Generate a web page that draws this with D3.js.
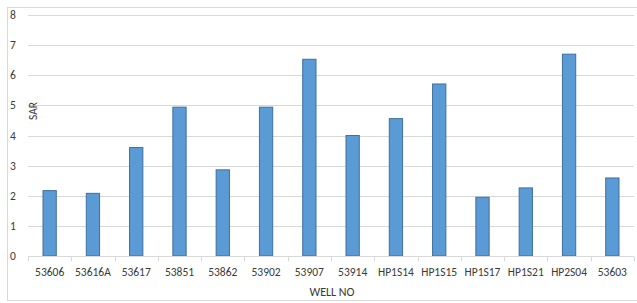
<!DOCTYPE html>
<html>
<head>
<meta charset="utf-8">
<script src="https://cdn.jsdelivr.net/npm/d3@7"></script>
<style>
  body { margin: 0; background: #fff; }
  svg { display: block; font-family: Calibri, Carlito, "Open Sans", sans-serif; }
</style>
</head>
<body>
<svg id="chart" width="637" height="303"></svg>
<script>
const wells = ["53606", "53616A", "53617", "53851", "53862", "53902", "53907", "53914",
    "HP1S14", "HP1S15", "HP1S17", "HP1S21", "HP2S04", "53603"];
const sarValues = [2.17, 2.08, 3.6, 4.94, 2.86, 4.94, 6.53, 4.0, 4.56, 5.71, 1.95, 2.26, 6.7, 2.59];
const yTicks = [0, 1, 2, 3, 4, 5, 6, 7, 8];

const svg = d3.select("#chart");
const margin = { left: 28, right: 3, top: 15, bottom: 47 };
const width = 637, height = 303;
const textColor = "#3a3a3a";

// chart border (right side runs off the picture)
svg.append("rect")
    .attr("x", 7.5).attr("y", 7.5)
    .attr("width", 640).attr("height", 293)
    .attr("fill", "none").attr("stroke", "#d9d9d9");

const x = d3.scaleBand()
    .domain(wells)
    .range([margin.left, width - margin.right])
    .paddingInner(0.67).paddingOuter(0.335);
const xBounds = d3.scaleBand().domain(wells).range([margin.left, width - margin.right]);

const y = d3.scaleLinear().domain([0, 8]).range([height - margin.bottom, margin.top]);

// gridlines
svg.append("g")
    .selectAll("line")
    .data(yTicks.filter((t) => t > 0))
    .join("line")
    .attr("x1", margin.left).attr("x2", width - margin.right)
    .attr("y1", (d) => Math.round(y(d)) + 0.5).attr("y2", (d) => Math.round(y(d)) + 0.5)
    .attr("stroke", "#d9d9d9");

// y tick labels
svg.append("g")
    .selectAll("text")
    .data(yTicks)
    .join("text")
    .attr("x", 10)
    .attr("y", (d) => y(d))
    .attr("dy", "0.35em")
    .attr("font-size", 11.5)
    .attr("fill", textColor)
    .text((d) => d);

// bars
svg.append("g")
    .selectAll("rect")
    .data(wells)
    .join("rect")
    .attr("x", (d) => x(d) + 0.5)
    .attr("y", (d, i) => y(sarValues[i]))
    .attr("width", x.bandwidth() - 1)
    .attr("height", (d, i) => y(0) - y(sarValues[i]))
    .attr("fill", "#5b9bd5")
    .attr("stroke", "#3e6f9e")
    .attr("stroke-width", 1);

// x axis line and ticks
const axisY = Math.round(y(0)) + 0.5;
svg.append("line")
    .attr("x1", margin.left).attr("x2", width - margin.right)
    .attr("y1", axisY).attr("y2", axisY)
    .attr("stroke", "#d9d9d9");
const bounds = wells.map((w) => xBounds(w)).concat([width - margin.right]);
svg.append("g")
    .selectAll("line")
    .data(bounds)
    .join("line")
    .attr("x1", (d) => Math.round(d) + 0.5).attr("x2", (d) => Math.round(d) + 0.5)
    .attr("y1", axisY).attr("y2", axisY + 5)
    .attr("stroke", "#d9d9d9");

// x tick labels
svg.append("g")
    .selectAll("text")
    .data(wells)
    .join("text")
    .attr("x", (d) => xBounds(d) + xBounds.bandwidth() / 2)
    .attr("y", 272)
    .attr("dy", "0.35em")
    .attr("text-anchor", "middle")
    .attr("font-size", 11.5)
    .attr("fill", textColor)
    .text((d) => d);

// axis titles
svg.append("text")
    .attr("x", 332).attr("y", 292)
    .attr("dy", "0.35em")
    .attr("text-anchor", "middle")
    .attr("font-size", 12)
    .attr("fill", textColor)
    .text("WELL NO");

svg.append("text")
    .attr("transform", "translate(37,111) rotate(-90)")
    .attr("text-anchor", "middle")
    .attr("font-size", 11.5)
    .attr("fill", textColor)
    .text("SAR");
</script>
</body>
</html>
